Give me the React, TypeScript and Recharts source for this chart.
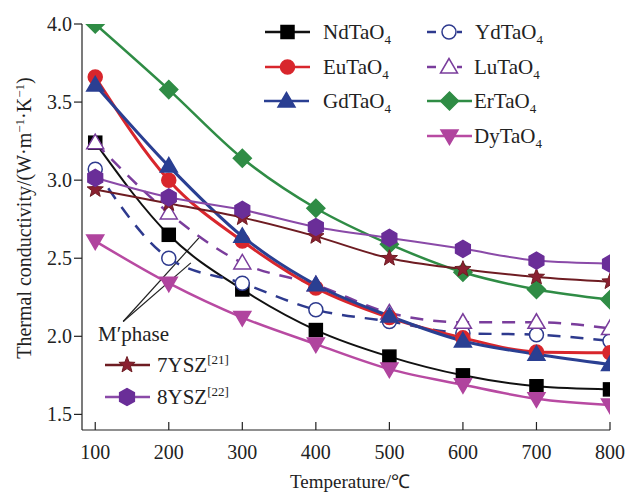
import React from 'react';
import { LineChart, Line, XAxis, YAxis, ReferenceLine } from 'recharts';

const temperatures = [100, 200, 300, 400, 500, 600, 700, 800];
const ndTaO4 = [3.24, 2.65, 2.3, 2.04, 1.87, 1.75, 1.68, 1.66];
const euTaO4 = [3.66, 3.0, 2.61, 2.31, 2.12, 1.99, 1.9, 1.895];
const gdTaO4 = [3.61, 3.09, 2.64, 2.33, 2.13, 1.97, 1.885, 1.82];
const ydTaO4 = [3.07, 2.5, 2.34, 2.17, 2.095, 2.02, 2.01, 1.97];
const luTaO4 = [3.24, 2.79, 2.47, 2.33, 2.15, 2.09, 2.09, 2.05];
const erTaO4 = [4.0, 3.58, 3.14, 2.82, 2.59, 2.41, 2.3, 2.235];
const dyTaO4 = [2.61, 2.34, 2.12, 1.95, 1.79, 1.69, 1.6, 1.56];
const ysz7 = [2.94, 2.85, 2.76, 2.64, 2.5, 2.43, 2.38, 2.35];
const ysz8 = [3.015, 2.89, 2.81, 2.7, 2.63, 2.56, 2.485, 2.465];
const xTicks = [100, 200, 300, 400, 500, 600, 700, 800];
const yTicks = [1.5, 2.0, 2.5, 3.0, 3.5, 4.0];

const data = temperatures.map((t, i) => ({
  t,
  nd: ndTaO4[i],
  eu: euTaO4[i],
  gd: gdTaO4[i],
  yd: ydTaO4[i],
  lu: luTaO4[i],
  er: erTaO4[i],
  dy: dyTaO4[i],
  y7: ysz7[i],
  y8: ysz8[i],
}));

const FONT = "'Liberation Serif', 'Times New Roman', serif";

type ShapeKind = 'square' | 'circle' | 'triangle' | 'diamond' | 'invtri' | 'star' | 'hexagon';

function Marker({ kind, cx, cy, fill, stroke, sw = 1.5 }: { kind: ShapeKind; cx: number; cy: number; fill: string; stroke: string; sw?: number }) {
  if (kind === 'square') return <rect x={cx - 6.5} y={cy - 6.5} width={13} height={13} fill={fill} stroke={stroke} strokeWidth={sw} />;
  if (kind === 'circle') return <circle cx={cx} cy={cy} r={7} fill={fill} stroke={stroke} strokeWidth={sw} />;
  if (kind === 'triangle')
    return <polygon points={`${cx},${cy - 8.5} ${cx - 8.5},${cy + 6} ${cx + 8.5},${cy + 6}`} fill={fill} stroke={stroke} strokeWidth={sw} />;
  if (kind === 'invtri')
    return <polygon points={`${cx},${cy + 8.5} ${cx - 8.5},${cy - 6} ${cx + 8.5},${cy - 6}`} fill={fill} stroke={stroke} strokeWidth={sw} />;
  if (kind === 'diamond')
    return <polygon points={`${cx},${cy - 9} ${cx + 9},${cy} ${cx},${cy + 9} ${cx - 9},${cy}`} fill={fill} stroke={stroke} strokeWidth={sw} />;
  if (kind === 'hexagon') {
    const pts = [0, 1, 2, 3, 4, 5]
      .map((k) => {
        const a = (Math.PI / 3) * k + Math.PI / 6;
        return `${cx + 8.5 * Math.cos(a)},${cy + 8.5 * Math.sin(a)}`;
      })
      .join(' ');
    return <polygon points={pts} fill={fill} stroke={stroke} strokeWidth={sw} />;
  }
  const pts: string[] = [];
  for (let k = 0; k < 10; k++) {
    const r = k % 2 === 0 ? 8.5 : 3.6;
    const a = -Math.PI / 2 + (Math.PI / 5) * k;
    pts.push(`${cx + r * Math.cos(a)},${cy + r * Math.sin(a)}`);
  }
  return <polygon points={pts.join(' ')} fill={fill} stroke={stroke} strokeWidth={1} />;
}

const makeDot = (name: string, kind: ShapeKind, fill: string, stroke: string) => (props: any) => {
  const { cx, cy, index } = props;
  if (cx == null || cy == null) return <g key={`${name}-${index}`} />;
  return (
    <g key={`${name}-${index}`}>
      <Marker kind={kind} cx={cx} cy={cy} fill={fill} stroke={stroke} />
    </g>
  );
};

type SeriesDef = {
  key: string;
  kind: ShapeKind;
  line: string;
  fill: string;
  stroke: string;
  width: number;
  dash?: string;
};

const series: SeriesDef[] = [
  { key: 'nd', kind: 'square', line: '#111111', fill: '#000000', stroke: '#000000', width: 2 },
  { key: 'yd', kind: 'circle', line: '#2e3a8e', fill: '#ffffff', stroke: '#2e3a8e', width: 2.5, dash: '13 10' },
  { key: 'lu', kind: 'triangle', line: '#7a3d9c', fill: '#ffffff', stroke: '#7a3d9c', width: 2.5, dash: '13 10' },
  { key: 'eu', kind: 'circle', line: '#d8262c', fill: '#d8262c', stroke: '#d8262c', width: 3 },
  { key: 'gd', kind: 'triangle', line: '#2a3f92', fill: '#2a3f92', stroke: '#2a3f92', width: 3 },
  { key: 'er', kind: 'diamond', line: '#2f8c45', fill: '#2f8c45', stroke: '#2f8c45', width: 2.5 },
  { key: 'dy', kind: 'invtri', line: '#b84aa2', fill: '#b0449e', stroke: '#b0449e', width: 2.5 },
  { key: 'y7', kind: 'star', line: '#6e1c22', fill: '#8a2030', stroke: '#6e1c22', width: 2 },
  { key: 'y8', kind: 'hexagon', line: '#8a4aa8', fill: '#6a2e98', stroke: '#6a2e98', width: 2 },
];

function LegendRow({ x, y, w, kind, line, fill, stroke, dash, label, textX }: any) {
  return (
    <g>
      {dash ? (
        <>
          <line x1={x} y1={y} x2={x + 9} y2={y} stroke={line} strokeWidth={2.5} />
          <line x1={x + 30} y1={y} x2={x + 35} y2={y} stroke={line} strokeWidth={2.5} />
        </>
      ) : (
        <line x1={x} y1={y} x2={x + w} y2={y} stroke={line} strokeWidth={2.5} />
      )}
      <Marker kind={kind} cx={dash ? x + 22 : x + w / 2} cy={y} fill={fill} stroke={stroke} />
      <text x={textX} y={y} dy="0.35em" fontFamily={FONT} fontSize={21} fill="#222">
        {label}
        <tspan dy={5} fontSize={13}>4</tspan>
      </text>
    </g>
  );
}

export default function App() {
  return (
    <div style={{ position: 'relative', width: 625, height: 492, background: '#fff' }}>
      <style>{`body{margin:0;}`}</style>
      <LineChart width={625} height={492} data={data} margin={{ top: 24, right: 15, bottom: 32, left: 0 }}>
        <XAxis
          dataKey="t"
          type="number"
          domain={[82, 800]}
          ticks={xTicks}
          allowDataOverflow
          stroke="#222"
          tickSize={-8}
          tickMargin={23}
          height={30}
          tick={{ fontFamily: FONT, fontSize: 20, fill: '#222' }}
          axisLine={{ stroke: '#222', strokeWidth: 1.2 }}
          tickLine={{ stroke: '#222', strokeWidth: 1.2 }}
        />
        <YAxis
          type="number"
          domain={[1.4, 4.0]}
          ticks={yTicks}
          allowDataOverflow
          width={82}
          tickSize={8}
          tickMargin={2}
          tickFormatter={(v: number) => v.toFixed(1)}
          tick={{ fontFamily: FONT, fontSize: 20, fill: '#222' }}
          axisLine={{ stroke: '#222', strokeWidth: 1.2 }}
          tickLine={{ stroke: '#222', strokeWidth: 1.2 }}
        />
        <ReferenceLine segment={[{ x: 138, y: 2.095 }, { x: 241, y: 2.63 }]} stroke="#222" strokeWidth={1.2} />
        <ReferenceLine segment={[{ x: 138, y: 2.095 }, { x: 230, y: 2.47 }]} stroke="#222" strokeWidth={1.2} />
        {series.map((s) => (
          <Line
            key={s.key}
            dataKey={s.key}
            type="monotone"
            stroke={s.line}
            strokeWidth={s.width}
            strokeDasharray={s.dash}
            isAnimationActive={false}
            dot={makeDot(s.key, s.kind, s.fill, s.stroke)}
            activeDot={false}
          />
        ))}
      </LineChart>
      <svg width={625} height={492} style={{ position: 'absolute', left: 0, top: 0, pointerEvents: 'none' }}>
        <text
          transform="translate(24,218) rotate(-90)"
          textAnchor="middle"
          dy="0.35em"
          fontFamily={FONT}
          fontSize={20}
          fill="#222"
        >
          Thermal conductivity/(W·m<tspan dy={-7} fontSize={13}>−1</tspan>
          <tspan dy={7}>·K</tspan>
          <tspan dy={-7} fontSize={13}>−1</tspan>
          <tspan dy={7}>)</tspan>
        </text>
        <text x={350} y={481} textAnchor="middle" dy="0.35em" fontFamily={FONT} fontSize={19} fill="#222">
          Temperature/℃
        </text>
        <LegendRow x={265} y={32} w={45} kind="square" line="#111" fill="#000" stroke="#000" label="NdTaO" textX={323} />
        <LegendRow x={265} y={67} w={45} kind="circle" line="#d8262c" fill="#d8262c" stroke="#d8262c" label="EuTaO" textX={323} />
        <LegendRow x={264} y={101} w={45} kind="triangle" line="#2a3f92" fill="#2a3f92" stroke="#2a3f92" label="GdTaO" textX={323} />
        <LegendRow x={427} y={32} w={45} kind="circle" line="#2e3a8e" fill="#fff" stroke="#2e3a8e" dash label="YdTaO" textX={475} />
        <LegendRow x={427} y={67} w={45} kind="triangle" line="#7a3d9c" fill="#fff" stroke="#7a3d9c" dash label="LuTaO" textX={474} />
        <LegendRow x={427} y={101} w={45} kind="diamond" line="#2f8c45" fill="#2f8c45" stroke="#2f8c45" label="ErTaO" textX={474} />
        <LegendRow x={427} y={136} w={45} kind="invtri" line="#b84aa2" fill="#b0449e" stroke="#b0449e" label="DyTaO" textX={474} />
        <text x={98} y={334} dy="0.35em" fontFamily={FONT} fontSize={21} fill="#222">
          M′phase
        </text>
        <line x1={105} y1={365} x2={150} y2={365} stroke="#6e1c22" strokeWidth={2.5} />
        <Marker kind="star" cx={127} cy={365} fill="#8a2030" stroke="#6e1c22" />
        <text x={157} y={365} dy="0.35em" fontFamily={FONT} fontSize={21} fill="#222">
          7YSZ<tspan dy={-8} fontSize={13}>[21]</tspan>
        </text>
        <line x1={105} y1={397} x2={150} y2={397} stroke="#8a4aa8" strokeWidth={2.5} />
        <Marker kind="hexagon" cx={127} cy={397} fill="#6a2e98" stroke="#6a2e98" />
        <text x={157} y={397} dy="0.35em" fontFamily={FONT} fontSize={21} fill="#222">
          8YSZ<tspan dy={-8} fontSize={13}>[22]</tspan>
        </text>
      </svg>
    </div>
  );
}
